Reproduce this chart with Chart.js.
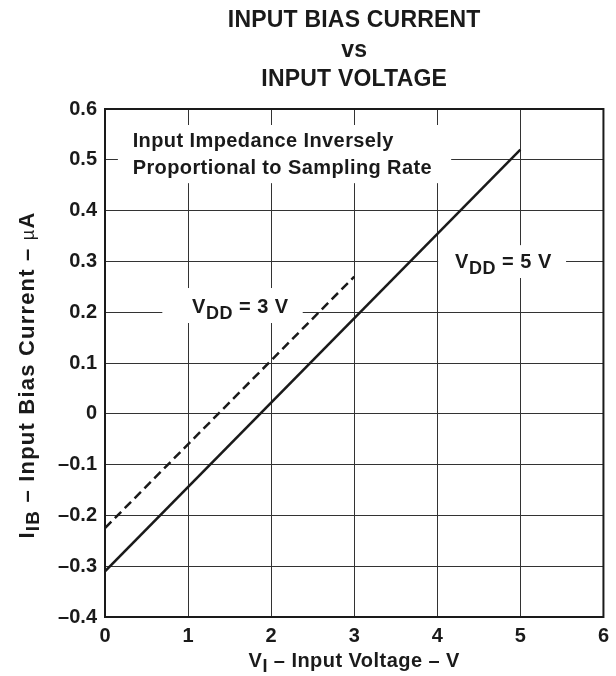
<!DOCTYPE html>
<html>
<head>
<meta charset="utf-8">
<script src="https://cdn.jsdelivr.net/npm/chart.js@4/dist/chart.umd.min.js"></script>
<style>
  html, body { margin: 0; padding: 0; background: #fff; }
  canvas { display: block; }
</style>
</head>
<body>
<canvas id="chart" width="616" height="676"></canvas>
<script>
// data
const vdd5Voltage = [0, 5];
const vdd5Current = [-0.31, 0.52];
const vdd3Voltage = [0, 3];
const vdd3Current = [-0.225, 0.27];

const xTicks = [0, 1, 2, 3, 4, 5, 6];
const yTicks = [-0.4, -0.3, -0.2, -0.1, 0, 0.1, 0.2, 0.3, 0.4, 0.5, 0.6];

const titleLines = ["INPUT BIAS CURRENT", "vs", "INPUT VOLTAGE"];
const noteLines = ["Input Impedance Inversely", "Proportional to Sampling Rate"];

const FAM = '"Liberation Sans", Arial, Helvetica, sans-serif';
const F_MAIN = 'bold 20px ' + FAM;
const F_SUB = 'bold 18px ' + FAM;
const F_TITLE = 'bold 23px ' + FAM;
const INK = '#1a1a1a';

function toPoints(xs, ys) {
  return xs.map((x, i) => ({ x: x, y: ys[i] }));
}

// draw a run of [text, font, dy] pieces
function richText(ctx, parts, x, y, align) {
  let w = 0;
  parts.forEach(p => { ctx.font = p[1]; w += ctx.measureText(p[0]).width; });
  let cx = align === 'center' ? x - w / 2 : x;
  parts.forEach(p => {
    ctx.font = p[1];
    ctx.fillText(p[0], cx, y + (p[2] || 0));
    cx += ctx.measureText(p[0]).width;
  });
}

// label boxes in data units: [x0, y0, x1, y1]
const whiteBoxes = [
  [0.155, 0.5685, 4.167, 0.454],
  [0.69, 0.2476, 2.38, 0.1787],
  [4.01, 0.332, 5.55, 0.2673]
];

const decor = {
  id: 'decor',
  beforeDatasetsDraw(chart) {
    const ctx = chart.ctx, xs = chart.scales.x, ys = chart.scales.y;
    ctx.save();
    ctx.fillStyle = '#fff';
    whiteBoxes.forEach(b => {
      const x0 = xs.getPixelForValue(b[0]), x1 = xs.getPixelForValue(b[2]);
      const y0 = ys.getPixelForValue(b[1]), y1 = ys.getPixelForValue(b[3]);
      ctx.fillRect(x0, y0, x1 - x0, y1 - y0);
    });
    ctx.restore();
  },
  afterDatasetsDraw(chart) {
    const ctx = chart.ctx, xs = chart.scales.x, ys = chart.scales.y;
    const a = chart.chartArea;
    ctx.save();
    ctx.fillStyle = INK;
    ctx.textBaseline = 'alphabetic';
    ctx.textAlign = 'left';

    // frame
    ctx.strokeStyle = INK;
    ctx.lineWidth = 2;
    ctx.strokeRect(a.left, a.top, a.right - a.left, a.bottom - a.top);

    // title
    const cx = (a.left + a.right) / 2;
    const titleY = [27, 57, 86];
    ctx.letterSpacing = '0.2px';
    titleLines.forEach((t, i) => richText(ctx, [[t, F_TITLE]], cx, titleY[i], 'center'));

    // note
    ctx.letterSpacing = '0.4px';
    const nx = xs.getPixelForValue(0.333);
    ctx.font = F_MAIN;
    ctx.fillText(noteLines[0], nx, ys.getPixelForValue(0.525));
    ctx.fillText(noteLines[1], nx, ys.getPixelForValue(0.472));

    // curve labels
    ctx.letterSpacing = '0.5px';
    richText(ctx, [['V', F_MAIN], ['DD', F_SUB, 6], [' = 3 V', F_MAIN]],
      xs.getPixelForValue(1.048), ys.getPixelForValue(0.198), 'left');
    richText(ctx, [['V', F_MAIN], ['DD', F_SUB, 6], [' = 5 V', F_MAIN]],
      xs.getPixelForValue(4.214), ys.getPixelForValue(0.287), 'left');

    // x axis title
    ctx.letterSpacing = '0.45px';
    richText(ctx, [['V', F_MAIN], ['I', F_SUB, 5], [' \u2013 Input Voltage \u2013 V', F_MAIN]],
      cx, 667, 'center');

    // y axis title
    ctx.letterSpacing = '1.2px';
    ctx.save();
    ctx.translate(34, 375);
    ctx.rotate(-Math.PI / 2);
    richText(ctx, [['I', 'bold 22px ' + FAM], ['IB', 'bold 19px ' + FAM, 5],
      [' \u2013 Input Bias Current \u2013 ', 'bold 22px ' + FAM],
      ['\u00b5', '18px ' + FAM], ['A', 'bold 22px ' + FAM]], 0, 0, 'center');
    ctx.restore();

    ctx.restore();
  }
};

new Chart(document.getElementById('chart').getContext('2d'), {
  type: 'scatter',
  data: {
    datasets: [
      {
        label: 'VDD = 5 V',
        data: toPoints(vdd5Voltage, vdd5Current),
        showLine: true,
        borderColor: INK,
        borderWidth: 2.5,
        pointRadius: 0
      },
      {
        label: 'VDD = 3 V',
        data: toPoints(vdd3Voltage, vdd3Current),
        showLine: true,
        borderColor: INK,
        borderWidth: 2.5,
        borderDash: [9, 5],
        pointRadius: 0
      }
    ]
  },
  options: {
    responsive: false,
    animation: false,
    events: [],
    layout: { padding: { top: 109, right: 7, left: 0, bottom: 0 } },
    plugins: {
      legend: { display: false },
      tooltip: { enabled: false },
      title: { display: false }
    },
    scales: {
      x: {
        type: 'linear',
        min: xTicks[0],
        max: xTicks[xTicks.length - 1],
        afterBuildTicks: s => { s.ticks = xTicks.map(v => ({ value: v })); },
        afterFit: s => { s.height = 59; },
        grid: { color: '#333', lineWidth: 1, drawTicks: false },
        border: { display: false },
        ticks: {
          padding: 7,
          color: INK,
          font: { family: FAM, size: 20, weight: 'bold' },
          callback: v => String(v)
        }
      },
      y: {
        type: 'linear',
        min: yTicks[0],
        max: yTicks[yTicks.length - 1],
        afterBuildTicks: s => { s.ticks = yTicks.map(v => ({ value: v })); },
        afterFit: s => { s.width = 105; },
        grid: { color: '#333', lineWidth: 1, drawTicks: false },
        border: { display: false },
        ticks: {
          padding: 8,
          color: INK,
          font: { family: FAM, size: 20, weight: 'bold' },
          callback: v => {
            if (Math.abs(v) < 1e-9) return '0';
            const s = Math.abs(v).toFixed(1);
            return v < 0 ? '\u2013' + s : s;
          }
        }
      }
    }
  },
  plugins: [decor]
});
</script>
</body>
</html>
